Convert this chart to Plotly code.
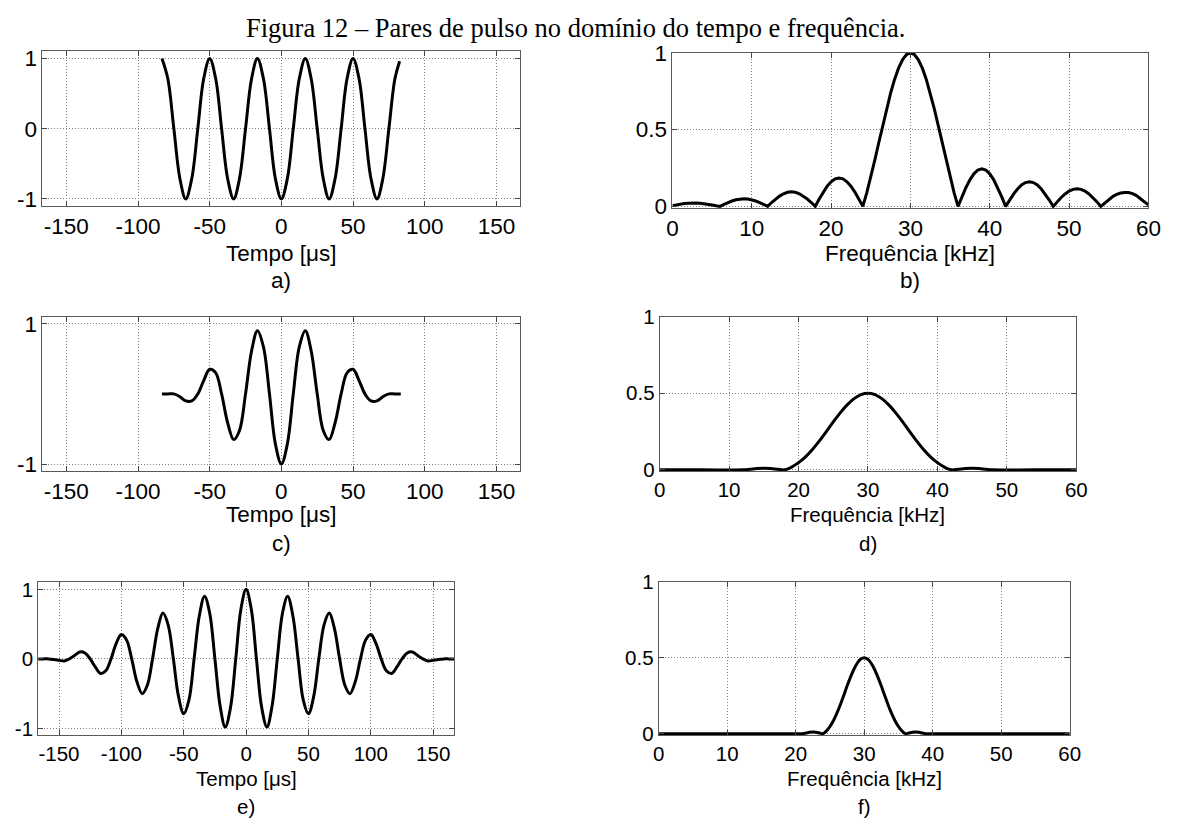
import plotly.graph_objects as go

# ---------------- data ----------------
# a) rectangular burst, time domain
t_a = [-83.3, -79.2, -75.0, -70.8, -66.7, -62.5, -58.3, -54.2, -50.0, -45.8,
       -41.7, -37.5, -33.3, -29.2, -25.0, -20.8, -16.7, -12.5, -8.3, -4.2,
       0.0, 4.2, 8.3, 12.5, 16.7, 20.8, 25.0, 29.2, 33.3, 37.5,
       41.7, 45.8, 50.0, 54.2, 58.3, 62.5, 66.7, 70.8, 75.0, 79.2, 82.5]
y_a = [1.0, 0.71, 0.0, -0.71, -1.0, -0.71, 0.0, 0.71, 1.0, 0.71,
       0.0, -0.71, -1.0, -0.71, 0.0, 0.71, 1.0, 0.71, 0.0, -0.71,
       -1.0, -0.71, 0.0, 0.71, 1.0, 0.71, 0.0, -0.71, -1.0, -0.71,
       0.0, 0.71, 1.0, 0.71, 0.0, -0.71, -1.0, -0.71, 0.0, 0.71, 0.96]

# b) spectrum of a)
f_b = [0.0, 0.5, 1.0, 1.5, 2.0, 2.5, 3.0, 3.5, 4.0, 4.5, 5.0, 5.5,
       6.0, 6.5, 7.0, 7.5, 8.0, 8.5, 9.0, 9.5, 10.0, 10.5, 11.0, 11.5,
       12.0, 12.5, 13.0, 13.5, 14.0, 14.5, 15.0, 15.5, 16.0, 16.5, 17.0, 17.5,
       18.0, 18.5, 19.0, 19.5, 20.0, 20.5, 21.0, 21.5, 22.0, 22.5, 23.0, 23.5,
       24.0, 24.5, 25.0, 25.5, 26.0, 26.5, 27.0, 27.5, 28.0, 28.5, 29.0, 29.5,
       30.0, 30.5, 31.0, 31.5, 32.0, 32.5, 33.0, 33.5, 34.0, 34.5, 35.0, 35.5,
       36.0, 36.5, 37.0, 37.5, 38.0, 38.5, 39.0, 39.5, 40.0, 40.5, 41.0, 41.5,
       42.0, 42.5, 43.0, 43.5, 44.0, 44.5, 45.0, 45.5, 46.0, 46.5, 47.0, 47.5,
       48.0, 48.5, 49.0, 49.5, 50.0, 50.5, 51.0, 51.5, 52.0, 52.5, 53.0, 53.5,
       54.0, 54.5, 55.0, 55.5, 56.0, 56.5, 57.0, 57.5, 58.0, 58.5, 59.0, 59.5,
       60.0]
a_b = [0.005, 0.010, 0.014, 0.018, 0.020, 0.022, 0.022, 0.021, 0.018, 0.014, 0.009, 0.004,
       0.0, 0.013, 0.025, 0.035, 0.043, 0.048, 0.050, 0.048, 0.043, 0.035, 0.025, 0.013,
       0.0, 0.025, 0.048, 0.067, 0.082, 0.092, 0.095, 0.092, 0.082, 0.067, 0.048, 0.025,
       0.0, 0.048, 0.093, 0.131, 0.160, 0.179, 0.185, 0.179, 0.160, 0.131, 0.093, 0.048,
       0.0, 0.090, 0.191, 0.300, 0.413, 0.527, 0.637, 0.738, 0.827, 0.900, 0.955, 0.989,
       1.0, 0.989, 0.955, 0.900, 0.827, 0.738, 0.637, 0.527, 0.413, 0.300, 0.191, 0.090,
       0.0, 0.063, 0.123, 0.173, 0.212, 0.237, 0.245, 0.237, 0.212, 0.173, 0.123, 0.063,
       0.0, 0.041, 0.080, 0.113, 0.139, 0.155, 0.160, 0.155, 0.139, 0.113, 0.080, 0.041,
       0.0, 0.030, 0.058, 0.081, 0.100, 0.111, 0.115, 0.111, 0.100, 0.081, 0.058, 0.030,
       0.0, 0.023, 0.045, 0.064, 0.078, 0.087, 0.090, 0.090, 0.083, 0.070, 0.050, 0.030,
       0.010]

# c) Hann-windowed burst, time domain
t_c = [-83.3, -79.2, -75.0, -70.8, -66.7, -62.5, -58.3, -54.2, -50.0, -45.8,
       -41.7, -37.5, -33.3, -29.2, -25.0, -20.8, -16.7, -12.5, -8.3, -4.2,
       0.0, 4.2, 8.3, 12.5, 16.7, 20.8, 25.0, 29.2, 33.3, 37.5,
       41.7, 45.8, 50.0, 54.2, 58.3, 62.5, 66.7, 70.8, 75.0, 79.2, 83.3]
y_c = [0.0, 0.0, 0.0, -0.04, -0.10, -0.10, 0.0, 0.19, 0.35, 0.30,
       0.0, -0.41, -0.65, -0.52, 0.0, 0.61, 0.90, 0.67, 0.0, -0.71,
       -1.0, -0.71, 0.0, 0.67, 0.90, 0.61, 0.0, -0.52, -0.65, -0.41,
       0.0, 0.30, 0.35, 0.19, 0.0, -0.10, -0.10, -0.04, 0.0, 0.0, 0.0]

# d) spectrum of c)
f_d = [0, 6, 12, 13, 14, 15, 16, 17, 18, 19, 20, 21, 22, 23, 24, 25, 26, 27, 28, 29,
       30, 31, 32, 33, 34, 35, 36, 37, 38, 39, 40, 41, 42, 43, 44, 45, 46, 47, 48, 54, 60]
a_d = [0.0, 0.0, 0.0, 0.004, 0.009, 0.011, 0.009, 0.004, 0.0, 0.018, 0.047, 0.085, 0.133,
       0.189, 0.250, 0.313, 0.372, 0.424, 0.465, 0.491,
       0.500, 0.491, 0.465, 0.424, 0.372, 0.313, 0.250, 0.189, 0.133, 0.085, 0.047, 0.018,
       0.0, 0.004, 0.009, 0.011, 0.009, 0.004, 0.0, 0.0, 0.0]

# e) longer Hann-windowed burst, time domain
t_e = [-166.7, -162.5, -158.3, -154.2, -150.0, -145.8, -141.7, -137.5, -133.3, -129.2,
       -125.0, -120.8, -116.7, -112.5, -108.3, -104.2, -100.0, -95.8, -91.7, -87.5,
       -83.3, -79.2, -75.0, -70.8, -66.7, -62.5, -58.3, -54.2, -50.0, -45.8,
       -41.7, -37.5, -33.3, -29.2, -25.0, -20.8, -16.7, -12.5, -8.3, -4.2,
       0.0, 4.2, 8.3, 12.5, 16.7, 20.8, 25.0, 29.2, 33.3, 37.5,
       41.7, 45.8, 50.0, 54.2, 58.3, 62.5, 66.7, 70.8, 75.0, 79.2,
       83.3, 87.5, 91.7, 95.8, 100.0, 104.2, 108.3, 112.5, 116.7, 120.8,
       125.0, 129.2, 133.3, 137.5, 141.7, 145.8, 150.0, 154.2, 158.3, 162.5, 166.7]
y_e = [0.0, 0.0, 0.0, -0.01, -0.02, -0.03, 0.0, 0.05, 0.10, 0.085,
       0.0, -0.12, -0.21, -0.17, 0.0, 0.22, 0.35, 0.27, 0.0, -0.33,
       -0.50, -0.38, 0.0, 0.44, 0.66, 0.49, 0.0, -0.54, -0.79, -0.59,
       0.0, 0.62, 0.90, 0.66, 0.0, -0.68, -0.98, -0.70, 0.0, 0.71,
       1.0, 0.71, 0.0, -0.70, -0.98, -0.68, 0.0, 0.66, 0.90, 0.62,
       0.0, -0.59, -0.79, -0.54, 0.0, 0.49, 0.66, 0.44, 0.0, -0.38,
       -0.50, -0.33, 0.0, 0.27, 0.35, 0.22, 0.0, -0.17, -0.21, -0.12,
       0.0, 0.085, 0.10, 0.05, 0.0, -0.03, -0.02, -0.01, 0.0, 0.0, 0.0]

# f) spectrum of e)
f_f = [0, 10, 20, 21, 21.5, 22, 22.5, 23, 23.5, 24, 24.5, 25, 25.5, 26, 26.5, 27, 27.5,
       28, 28.5, 29, 29.5, 30, 30.5, 31, 31.5, 32, 32.5, 33, 33.5, 34, 34.5, 35, 35.5,
       36, 36.5, 37, 37.5, 38, 38.5, 39, 40, 50, 60]
a_f = [0.0, 0.0, 0.0, 0.0, 0.004, 0.009, 0.011, 0.009, 0.004, 0.0, 0.018, 0.047, 0.085,
       0.133, 0.189, 0.250, 0.313, 0.372, 0.424, 0.465, 0.491, 0.500, 0.491, 0.465, 0.424,
       0.372, 0.313, 0.250, 0.189, 0.133, 0.085, 0.047, 0.018, 0.0, 0.004, 0.009, 0.011,
       0.009, 0.004, 0.0, 0.0, 0.0, 0.0]

time_ticks = [-150, -100, -50, 0, 50, 100, 150]
time_ticktext = ["-150", "-100", "-50", "0", "50", "100", "150"]
freq_ticks = [0, 10, 20, 30, 40, 50, 60]
panel_labels = ["a)", "b)", "c)", "d)", "e)", "f)"]
title_text = "Figura 12 – Pares de pulso no domínio do tempo e frequência."
xtitle_time = "Tempo [μs]"
xtitle_freq = "Frequência [kHz]"

# ---------------- layout ----------------
W, H = 1187, 829
# pixel boxes: left, top, right, bottom
boxes = [
    (37.0, 40.5, 522.7, 199.5),
    (677.3, 42.0, 1161.0, 201.5),
    (37.0, 313.3, 522.7, 472.3),
    (664.3, 313.3, 1087.7, 472.5),
    (32.7, 586.7, 455.3, 744.0),
    (663.3, 586.0, 1081.0, 743.8),
]
label_y = [(248, 276), (248, 276), (517, 547), (517, 547), (788, 817), (788, 817)]
font_sizes = [22.5, 22.5, 22.5, 20.5, 20.5, 20.5]

FONT = "Liberation Sans, Arial, sans-serif"
fig = go.Figure()

series = [(t_a, y_a, "spline"), (f_b, a_b, "linear"), (t_c, y_c, "spline"),
          (f_d, a_d, "spline"), (t_e, y_e, "spline"), (f_f, a_f, "spline")]

for i, (xs, ys, shape) in enumerate(series):
    n = "" if i == 0 else str(i + 1)
    fs = font_sizes[i]
    fig.add_trace(go.Scatter(x=xs, y=ys, mode="lines",
                             line=dict(color="black", width=3, shape=shape),
                             xaxis="x" + n, yaxis="y" + n, showlegend=False,
                             hoverinfo="skip"))
    l, t, r, b = boxes[i]
    common = dict(showline=True, linecolor="#5a5a5a", linewidth=1, mirror="ticks",
                  ticks="inside", ticklen=5, tickcolor="#444444",
                  showgrid=True, gridcolor="#808080", griddash="1px,2px", gridwidth=1,
                  zeroline=False, tickfont=dict(family=FONT, size=fs, color="black"),
                  fixedrange=True)
    if i % 2 == 0:
        xa = dict(common, domain=[l / W, r / W], range=[-166.7, 166.7],
                  tickvals=time_ticks, ticktext=time_ticktext, anchor="y" + n)
        if i == 2:
            yv, yt = [-1, 1], ["-1", "1"]
        else:
            yv, yt = [-1, 0, 1], ["-1", "0", "1"]
        ya = dict(common, domain=[1 - b / H, 1 - t / H], range=[-1.1, 1.1],
                  tickvals=yv, ticktext=yt, anchor="x" + n)
        xt = xtitle_time
    else:
        xa = dict(common, domain=[l / W, r / W], range=[0, 60],
                  tickvals=freq_ticks, anchor="y" + n)
        ya = dict(common, domain=[1 - b / H, 1 - t / H], range=[-0.01, 1.0],
                  tickvals=[0, 0.5, 1], ticktext=["0", "0.5", "1"], anchor="x" + n)
        xt = xtitle_freq
    fig.layout["xaxis" + n] = xa
    fig.layout["yaxis" + n] = ya
    cx = (l + r) / 2 / W
    fig.add_annotation(text=xt, x=cx, y=1 - label_y[i][0] / H, xref="paper", yref="paper",
                       showarrow=False, xanchor="center", yanchor="middle",
                       font=dict(family=FONT, size=fs, color="black"))
    fig.add_annotation(text=panel_labels[i], x=cx, y=1 - label_y[i][1] / H,
                       xref="paper", yref="paper", showarrow=False,
                       xanchor="center", yanchor="middle",
                       font=dict(family=FONT, size=fs, color="black"))

fig.add_annotation(text=title_text, x=579 / W, y=1 - 16 / H, xref="paper", yref="paper",
                   showarrow=False, xanchor="center", yanchor="middle",
                   font=dict(family="Liberation Serif, Times New Roman, serif",
                             size=26.5, color="black"))

fig.update_layout(width=W, height=H, margin=dict(l=0, r=0, t=0, b=0),
                  paper_bgcolor="white", plot_bgcolor="white")

fig.write_html("out.html",
               post_script="document.body.style.margin='0';document.body.style.overflow='hidden';")
